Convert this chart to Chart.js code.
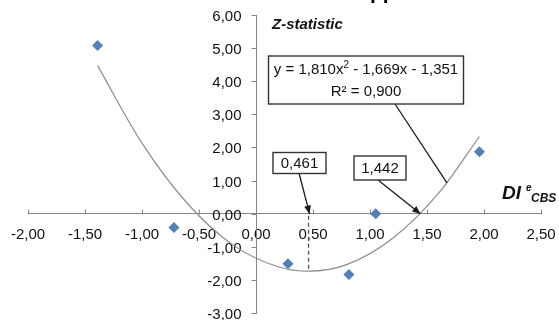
<!DOCTYPE html>
<html>
<head>
<meta charset="utf-8">
<script src="https://cdn.jsdelivr.net/npm/chart.js@4.4.0/dist/chart.umd.min.js"></script>
<style>
  html, body { margin: 0; padding: 0; background: #fff; }
  #wrap { width: 559px; height: 320px; }
</style>
</head>
<body>
<div id="wrap"><canvas id="zChart" width="559" height="320"></canvas></div>
<script>
// observed points (DI e CBS vs Z-statistic)
const pointX = [-1.39, -0.72, 0.28, 0.815, 1.05, 1.96];
const pointY = [5.08, -0.42, -1.51, -1.84, 0.00, 1.87];

// polynomial trend line
const trendX = [-1.39, -1.0, -0.6, -0.2, 0.2, 0.461, 0.8, 1.2, 1.6, 1.96];
const trendY = [4.47, 2.13, 0.30, -0.95, -1.61, -1.736, -1.53, -0.74, 0.61, 2.33];

const xTicks = [-2, -1.5, -1, -0.5, 0, 0.5, 1, 1.5, 2, 2.5];
const yTicks = [-3, -2, -1, 0, 1, 2, 3, 4, 5, 6];

const vertexX = 0.461, vertexY = -1.736;
const rootX = 1.442;
const eqLine1 = ['y = 1,810x', '2', ' - 1,669x - 1,351'];
const eqLine2 = 'R\u00b2 = 0,900';
const vertexLabel = '0,461';
const rootLabel = '1,442';

const FONT = "'Liberation Sans', Arial, sans-serif";
const AXIS = '#868686';
const TEXT = '#111';

const fmt = v => v.toFixed(2).replace('.', ',');

function arrow(ctx, x1, y1, x2, y2, head) {
  ctx.beginPath();
  ctx.moveTo(x1, y1);
  ctx.lineTo(x2, y2);
  ctx.stroke();
  if (!head) return;
  const a = Math.atan2(y2 - y1, x2 - x1);
  const L = 8, W = 3.5;
  ctx.beginPath();
  ctx.moveTo(x2, y2);
  ctx.lineTo(x2 - L * Math.cos(a) + W * Math.sin(a), y2 - L * Math.sin(a) - W * Math.cos(a));
  ctx.lineTo(x2 - L * Math.cos(a) - W * Math.sin(a), y2 - L * Math.sin(a) + W * Math.cos(a));
  ctx.closePath();
  ctx.fill();
}

function box(ctx, cx, cy, w, h) {
  ctx.fillStyle = '#fff';
  ctx.fillRect(cx - w / 2, cy - h / 2, w, h);
  ctx.strokeStyle = '#333';
  ctx.lineWidth = 1.4;
  ctx.strokeRect(cx - w / 2, cy - h / 2, w, h);
}

const extras = {
  id: 'extras',
  beforeDatasetsDraw(chart) {
    const { ctx, scales: { x, y } } = chart;
    ctx.save();
    ctx.strokeStyle = AXIS;
    ctx.lineWidth = 1;
    const y0 = Math.round(y.getPixelForValue(0)) + 0.5;
    const x0 = Math.round(x.getPixelForValue(0)) + 0.5;
    // x tick marks point upward
    xTicks.forEach(v => {
      const px = Math.round(x.getPixelForValue(v)) + 0.5;
      ctx.beginPath();
      ctx.moveTo(px, y0);
      ctx.lineTo(px, y0 - 5);
      ctx.stroke();
    });
    // y tick marks point left, labels beside them
    ctx.fillStyle = TEXT;
    ctx.font = '15px ' + FONT;
    ctx.textAlign = 'right';
    ctx.textBaseline = 'middle';
    yTicks.forEach(v => {
      const py = Math.round(y.getPixelForValue(v)) + 0.5;
      ctx.beginPath();
      ctx.moveTo(x0, py);
      ctx.lineTo(x0 - 5, py);
      ctx.stroke();
      ctx.fillText(fmt(v), x0 - 15, py + 1);
    });
    // dashed drop line at the vertex
    ctx.strokeStyle = '#555';
    ctx.lineWidth = 1.3;
    ctx.setLineDash([4, 3]);
    const vx = x.getPixelForValue(vertexX);
    ctx.beginPath();
    ctx.moveTo(vx, y.getPixelForValue(0.15));
    ctx.lineTo(vx, y.getPixelForValue(vertexY));
    ctx.stroke();
    ctx.setLineDash([]);
    ctx.restore();
  },
  afterDraw(chart) {
    const { ctx, scales: { x, y } } = chart;
    ctx.save();
    // cut-off title at top
    ctx.fillStyle = '#000';
    ctx.font = 'bold 21px ' + FONT;
    ctx.textBaseline = 'alphabetic';
    ctx.textAlign = 'left';
    ctx.fillText('pp', 370, -1);

    // axis titles
    ctx.fillStyle = TEXT;
    ctx.font = 'italic bold 15px ' + FONT;
    ctx.textBaseline = 'middle';
    ctx.fillText('Z-statistic', 272, 25);
    ctx.font = 'italic bold 19px ' + FONT;
    ctx.fillText('DI', 502, 194);
    ctx.font = 'italic bold 10px ' + FONT;
    ctx.fillText('e', 526, 188);
    ctx.font = 'italic bold 12px ' + FONT;
    ctx.fillText('CBS', 531, 199);

    // leader lines and arrows
    ctx.strokeStyle = '#1a1a1a';
    ctx.fillStyle = '#1a1a1a';
    ctx.lineWidth = 1.3;
    const y0 = y.getPixelForValue(0);
    arrow(ctx, 299, 173, x.getPixelForValue(vertexX) + 1, y0, true);
    arrow(ctx, 378, 180, x.getPixelForValue(rootX), y0, true);
    arrow(ctx, 395, 104, x.getPixelForValue(1.675), y.getPixelForValue(0.93), false);

    // label boxes
    ctx.font = '15px ' + FONT;
    ctx.textAlign = 'center';
    box(ctx, 299.5, 163, 53, 21);
    ctx.fillStyle = TEXT;
    ctx.fillText(vertexLabel, 299.5, 164);
    box(ctx, 380, 168, 52, 24);
    ctx.fillStyle = TEXT;
    ctx.fillText(rootLabel, 380, 169);

    box(ctx, 366, 80, 195, 48);
    ctx.fillStyle = TEXT;
    ctx.font = '15px ' + FONT;
    const w1 = ctx.measureText(eqLine1[0]).width;
    const w3 = ctx.measureText(eqLine1[2]).width;
    ctx.font = '10px ' + FONT;
    const w2 = ctx.measureText(eqLine1[1]).width;
    let sx = 366 - (w1 + w2 + w3) / 2;
    ctx.textAlign = 'left';
    ctx.font = '15px ' + FONT;
    ctx.fillText(eqLine1[0], sx, 70);
    ctx.font = '10px ' + FONT;
    ctx.fillText(eqLine1[1], sx + w1, 65);
    ctx.font = '15px ' + FONT;
    ctx.fillText(eqLine1[2], sx + w1 + w2, 70);
    ctx.textAlign = 'center';
    ctx.fillText(eqLine2, 366, 92);
    ctx.restore();
  }
};

new Chart(document.getElementById('zChart'), {
  type: 'scatter',
  data: {
    datasets: [
      {
        label: 'Z-statistic',
        data: pointX.map((v, i) => ({ x: v, y: pointY[i] })),
        pointStyle: 'rectRot',
        pointRadius: 5.5,
        pointHoverRadius: 5.5,
        backgroundColor: '#4F81BD',
        borderColor: '#4F81BD',
        borderWidth: 0,
        order: 1
      },
      {
        label: 'Trend',
        type: 'line',
        data: trendX.map((v, i) => ({ x: v, y: trendY[i] })),
        borderColor: '#8c8c8c',
        borderWidth: 1.2,
        pointRadius: 0,
        fill: false,
        cubicInterpolationMode: 'monotone',
        order: 2
      }
    ]
  },
  options: {
    responsive: false,
    animation: false,
    events: [],
    layout: { padding: { left: 28, right: 18, top: 15, bottom: 7 } },
    plugins: { legend: { display: false }, tooltip: { enabled: false }, title: { display: false } },
    scales: {
      x: {
        type: 'linear',
        position: { y: 0 },
        min: -2, max: 2.5,
        afterBuildTicks: s => { s.ticks = xTicks.map(v => ({ value: v })); },
        afterFit: s => { s.height = 0; s.paddingLeft = 0; s.paddingRight = 0; s.paddingTop = 0; s.paddingBottom = 0; },
        grid: { drawOnChartArea: false, drawTicks: false },
        border: { color: AXIS, width: 1 },
        ticks: {
          padding: 12,
          maxRotation: 0,
          color: TEXT,
          font: { family: FONT, size: 15 },
          callback: v => fmt(v)
        }
      },
      y: {
        type: 'linear',
        position: { x: 0 },
        min: -3, max: 6,
        afterBuildTicks: s => { s.ticks = yTicks.map(v => ({ value: v })); },
        afterFit: s => { s.width = 0; s.paddingLeft = 0; s.paddingRight = 0; s.paddingTop = 0; s.paddingBottom = 0; },
        grid: { drawOnChartArea: false, drawTicks: false },
        border: { color: AXIS, width: 1 },
        ticks: { display: false }
      }
    }
  },
  plugins: [extras]
});
</script>
</body>
</html>
